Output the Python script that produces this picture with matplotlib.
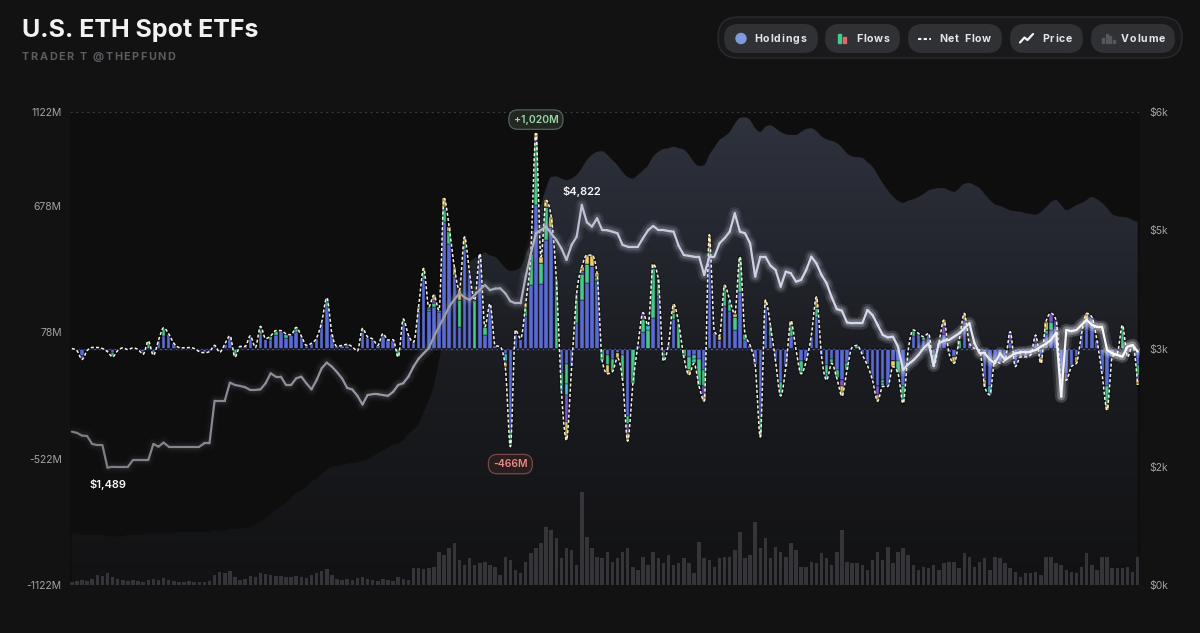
import numpy as np
import matplotlib
matplotlib.use("Agg")
import matplotlib.pyplot as plt
from matplotlib.collections import LineCollection
from matplotlib.patches import FancyBboxPatch, Circle, Rectangle, Polygon
from matplotlib.colors import LinearSegmentedColormap

# ---------------- data (trading-day index 0 = 2025-03-31) ----------------
MONTH_LABELS = ['Apr', 'May', 'Jun', 'Jul', 'Aug', 'Sep', 'Oct', 'Nov', 'Dec', 'Jan 26']
MONTH_TICK_DAYS = [1, 22, 43, 63, 85, 106, 127, 150, 169, 191]

# daily net flow, $M
NET_FLOW = [
    0, -10, -52, -10, 5, 5, 0, -15, -40, -10,
    3, -5, 3, -5, -27, 36, -32, 40, 98, 70,
    25, 5, 3, 5, 0, -15, -20, -15, 15, -18,
    20, 60, -40, 10, 10, 60, 5, 105, 47, 60,
    85, 85, 70, 65, 100, 60, 15, 25, 50, 125,
    240, 70, 10, 15, 20, 8, -12, 95, 55, 45,
    15, 70, 40, 42, -40, 140, 63, 30, 198, 380,
    198, 253, 182, 712, 577, 387, 277, 530, 356, 229,
    450, 103, 213, 15, 8, -87, -466, 87, 47, 213,
    450, 1020, 435, 703, 625, 332, -200, -435, -90, 261,
    387, 443, 443, 356, -60, -120, -110, -45, -150, -440,
    -170, 15, 170, 110, 400, 330, -60, 20, 210, 120,
    -40, -125, -70, -180, -250, 540, 80, 60, 300, 230,
    165, 435, 70, 15, -80, -420, 230, 110, -60, -225,
    -90, 130, -5, -120, -60, 60, 245, -35, -150, -70,
    -140, -225, -100, 5, 15, -30, -80, -150, -250, -180,
    -180, -86, -118, -260, -7, 88, 72, 56, 72, -86,
    25, 135, -23, -70, 40, 167, 25, 0, -7, -181,
    -220, -55, -70, -55, 80, -86, -40, -40, -31, 64,
    -70, 127, 167, 135, -150, -150, -86, -70, 72, 167,
    150, 40, -118, -292, -40, -23, 111, -40, 16, -173,
]

# issuer flows other than the largest fund ($M, by trading day); the rest of net flow is the largest fund
GREEN_FLOW = {8: -20, 15: 36, 18: 38, 32: -40, 37: 20, 39: 20, 40: 20, 42: 20, 44: 20, 50: 25,
              57: 15, 61: 10, 64: -40, 65: 20, 69: 40, 70: 10, 71: 20, 72: 10, 73: 60, 74: 60,
              76: 130, 77: 20, 79: 229, 81: 40, 86: -76, 89: 40, 90: 150, 91: 300, 92: 100, 93: 157,
              95: 332, 96: -65, 97: -95, 99: 110, 100: 120, 101: 90, 103: 20, 104: -60, 105: -50,
              106: -60, 108: -120, 109: -40, 110: -170, 112: 63, 113: 90, 114: 237, 115: 60, 116: -40,
              118: 30, 119: 120, 120: -40, 121: -60, 122: -20, 123: -130, 124: -80, 125: 40, 128: 80,
              129: 30, 130: 60, 131: 165, 132: 30, 135: -60, 137: 50, 139: -50, 141: 50, 143: -60,
              146: 40, 148: -40, 149: -20, 150: -40, 152: -30, 154: 15, 159: -15, 162: -58, 163: -80,
              165: 28, 167: 16, 169: -60, 174: 40, 191: 17, 192: 37, 203: -82, 206: 111, 209: -50}
YELLOW_FLOW = {68: 15, 69: 10, 71: 25, 73: 40, 74: 20, 75: 40, 76: 45, 77: 40, 85: -20, 87: 10,
               89: 20, 91: 25, 92: 30, 93: 30, 94: 50, 97: -85, 100: 20, 101: 40, 102: 50, 103: 15,
               105: -40, 107: -25, 109: -40, 114: 16, 115: 20, 118: 40, 121: -25, 124: -30, 125: 70,
               127: 20, 128: 20, 130: 15, 135: -30, 136: 30, 141: 20, 146: 55, 151: -45, 158: -30,
               161: -26, 171: 30, 173: -30, 175: 30, 179: -31, 190: -30, 191: 40, 197: -30, 199: 37,
               203: -30, 209: -23}
PURPLE_FLOW = {2: -17, 14: -10, 37: 15, 50: 15, 70: 10, 71: 10, 73: 10, 85: -10, 87: 10, 91: 15,
               97: -130, 99: 15, 100: 15, 109: -40, 112: 30, 124: -40, 151: -30, 158: -40, 171: 35,
               175: 27, 184: 50, 189: 40, 192: 40, 193: 55, 194: -40, 195: -30, 209: -20}
CYAN_FLOW = {54: 10, 85: -30, 96: -20, 97: -50, 99: 15, 113: 20, 122: -20, 129: 20, 139: -15,
             148: -30, 159: -15, 180: -40}

# ETH price, $
PRICE = [
    1945, 1930, 1895, 1890, 1789, 1775, 1775, 1489, 1500, 1500,
    1500, 1500, 1585, 1585, 1585, 1585, 1789, 1755, 1806, 1755,
    1755, 1755, 1755, 1755, 1755, 1755, 1797, 1797, 2338, 2338,
    2338, 2567, 2537, 2525, 2508, 2474, 2474, 2482, 2558, 2685,
    2643, 2643, 2537, 2537, 2622, 2643, 2558, 2482, 2600, 2749,
    2821, 2770, 2700, 2620, 2500, 2480, 2400, 2290, 2410, 2420,
    2420, 2410, 2400, 2450, 2537, 2560, 2643, 2770, 2870, 2940,
    3003, 3150, 3277, 3400, 3531, 3620, 3700, 3650, 3615, 3680,
    3743, 3806, 3740, 3760, 3763, 3700, 3600, 3573, 3573, 3912,
    4200, 4461, 4503, 4546, 4461, 4377, 4271, 4123, 4313, 4419,
    4822, 4600, 4546, 4652, 4503, 4500, 4482, 4461, 4313, 4292,
    4292, 4292, 4400, 4500, 4554, 4503, 4503, 4490, 4482, 4300,
    4186, 4175, 4165, 4165, 3933, 4165, 4165, 4334, 4400, 4482,
    4715, 4482, 4461, 4334, 3912, 4165, 4165, 4050, 3996, 3785,
    3975, 3954, 3848, 3869, 3996, 4165, 4080, 3933, 3827, 3650,
    3500, 3480, 3330, 3320, 3320, 3320, 3489, 3425, 3300, 3172,
    3140, 3150, 3023, 2727, 2800, 2850, 2918, 3003, 3066, 2780,
    3066, 3100, 3108, 3150, 3193, 3256, 3320, 3066, 2939, 2939,
    2860, 2812, 2939, 2854, 2900, 2939, 2950, 2950, 2960, 2981,
    3023, 3060, 3108, 3200, 2389, 3235, 3220, 3235, 3300, 3362,
    3300, 3277, 3277, 2981, 2939, 2918, 2896, 3023, 3045, 2960,
]

# total holdings, $B
HOLDINGS_B = [
    3.5, 3.5, 3.4, 3.4, 3.4, 3.4, 3.4, 3.3, 3.3, 3.3,
    3.3, 3.4, 3.4, 3.4, 3.4, 3.5, 3.5, 3.5, 3.5, 3.5,
    3.5, 3.6, 3.6, 3.6, 3.6, 3.6, 3.6, 3.6, 3.7, 3.7,
    3.7, 3.8, 3.8, 3.8, 3.9, 3.9, 4.1, 4.3, 4.5, 4.8,
    5.1, 5.3, 5.6, 5.9, 6.2, 6.4, 6.7, 7.0, 7.2, 7.5,
    7.8, 8.0, 8.05, 8.1, 8.2, 8.25, 8.3, 8.4, 8.5, 8.7,
    8.9, 9.1, 9.3, 9.5, 9.6, 9.8, 10.2, 10.5, 10.9, 11.7,
    12.5, 13.5, 15.2, 16.9, 18.6, 20.0, 20.9, 21.5, 21.85, 22.1,
    22.3, 22.5, 22.3, 22.2, 21.85, 21.45, 21.25, 21.3, 21.5, 22.3,
    23.3, 24.55, 25.7, 26.85, 27.6, 27.65, 27.5, 27.4, 27.5, 27.75,
    28.2, 28.75, 29.1, 29.3, 29.35, 29.1, 28.75, 28.4, 27.95, 27.6,
    27.5, 27.75, 28.05, 28.4, 29.0, 29.3, 29.5, 29.55, 29.65, 29.55,
    29.45, 29.1, 28.6, 28.35, 28.4, 29.1, 29.6, 30.1, 30.35, 30.65,
    31.2, 31.6, 31.65, 31.45, 30.9, 30.65, 31.0, 31.1, 30.9, 30.65,
    30.5, 30.45, 30.45, 30.65, 30.85, 30.9, 30.7, 30.35, 30.15, 30.05,
    29.9, 29.6, 29.2, 29.0, 28.95, 28.9, 28.6, 28.3, 27.75, 27.2,
    26.7, 26.3, 26.0, 25.85, 26.0, 26.1, 26.25, 26.45, 26.7, 26.8,
    26.85, 26.85, 26.7, 26.6, 26.85, 27.15, 27.2, 27.05, 26.85, 26.45,
    26.05, 25.75, 25.65, 25.5, 25.35, 25.3, 25.25, 25.15, 25.1, 25.05,
    25.25, 25.55, 25.9, 26.05, 25.7, 25.35, 25.5, 25.7, 25.85, 26.05,
    26.25, 26.1, 25.85, 25.5, 25.1, 24.95, 24.9, 24.85, 24.7, 24.55,
]

# daily trading volume, $M
VOLUME_M = [
    90, 120, 150, 120, 180, 300, 270, 360, 240, 180,
    150, 120, 150, 120, 90, 150, 180, 150, 210, 150,
    120, 90, 90, 120, 90, 90, 90, 120, 300, 390,
    360, 420, 240, 150, 180, 270, 240, 360, 330, 300,
    270, 270, 240, 240, 270, 240, 210, 300, 360, 420,
    480, 300, 180, 150, 180, 150, 210, 240, 180, 150,
    120, 180, 150, 120, 240, 180, 150, 510, 510, 480,
    510, 540, 990, 900, 1110, 1260, 750, 600, 810, 600,
    660, 690, 600, 540, 300, 840, 750, 450, 360, 690,
    960, 1110, 1260, 1740, 1650, 1410, 810, 1110, 1050, 600,
    2790, 1440, 1110, 840, 810, 990, 690, 810, 990, 1110,
    540, 450, 840, 600, 990, 810, 660, 900, 600, 660,
    810, 660, 360, 1290, 810, 750, 540, 810, 840, 840,
    1050, 1590, 810, 900, 1890, 1110, 1410, 810, 1140, 990,
    840, 1260, 1050, 540, 540, 690, 660, 960, 810, 600,
    990, 1650, 690, 660, 660, 600, 450, 750, 990, 750,
    1140, 660, 990, 1110, 900, 600, 450, 540, 510, 600,
    450, 660, 690, 690, 510, 960, 840, 540, 690, 810,
    450, 840, 810, 660, 510, 390, 240, 360, 360, 390,
    300, 840, 840, 660, 600, 450, 390, 360, 540, 960,
    600, 450, 840, 840, 510, 510, 510, 540, 390, 840,
]

FLOW_TICKS = [-1122, -522, 78, 678, 1122]
PRICE_TICKS = [0, 1500, 3000, 4500, 6000]
PRICE_TICK_LABELS = ['$0k', '$2k', '$3k', '$5k', '$6k']

N = len(NET_FLOW)
assert len(PRICE) == N and len(HOLDINGS_B) == N and len(VOLUME_M) == N, (len(PRICE), len(HOLDINGS_B), len(VOLUME_M))

# ---------------- style ----------------
plt.rcParams['font.family'] = ['Inter', 'DejaVu Sans']
BG = '#121213'
PLOT_BG = '#0e0e0f'
C_BLUE = '#5a6bd6'
C_GREEN = '#45c98c'
C_CYAN = '#3cc6df'
C_PURPLE = '#7a56cf'
C_YELLOW = '#efcf6b'
TICK_C = '#a2a2a6'

W, H = 1200, 633
fig = plt.figure(figsize=(12, 6.33), dpi=100)
fig.patch.set_facecolor(BG)
L, R, T, B = 70, 1140, 112, 585
rect = [L / W, 1 - B / H, (R - L) / W, (B - T) / H]
x = np.arange(N)
XLIM = (-0.35, N - 1 + 0.45)


def monotone_curve(xs, ys, per=12):
    xs = np.asarray(xs, float)
    ys = np.asarray(ys, float)
    h = np.diff(xs)
    s = np.diff(ys) / h
    m = np.zeros_like(ys)
    p = (s[:-1] * h[1:] + s[1:] * h[:-1]) / (h[:-1] + h[1:])
    m[1:-1] = (np.sign(s[:-1]) + np.sign(s[1:])) * np.minimum(
        np.minimum(np.abs(s[:-1]), np.abs(s[1:])), 0.5 * np.abs(p))
    m[0] = (3 * s[0] - m[1]) / 2
    m[-1] = (3 * s[-1] - m[-2]) / 2
    t = np.linspace(0, 1, per, endpoint=False)
    h00 = 2 * t**3 - 3 * t**2 + 1
    h10 = t**3 - 2 * t**2 + t
    h01 = -2 * t**3 + 3 * t**2
    h11 = t**3 - t**2
    outx, outy = [], []
    for i in range(len(xs) - 1):
        outx.append(xs[i] + t * h[i])
        outy.append(h00 * ys[i] + h10 * h[i] * m[i] + h01 * ys[i + 1] + h11 * h[i] * m[i + 1])
    outx.append([xs[-1]])
    outy.append([ys[-1]])
    return np.concatenate(outx), np.concatenate(outy)


def clean(ax):
    for sp in ax.spines.values():
        sp.set_visible(False)
    ax.set_xlim(*XLIM)


# ---- holdings (base axes) ----
ax_h = fig.add_axes(rect)
ax_h.set_facecolor(PLOT_BG)
clean(ax_h)
HMAX = 32
ax_h.set_ylim(0, HMAX)
ax_h.set_xticks([])
ax_h.set_yticks([])
hx, hy = monotone_curve(x, HOLDINGS_B, per=8)
verts = [(hx[0], 0)] + list(zip(hx, hy)) + [(hx[-1], 0)]
poly = Polygon(verts, closed=True, facecolor='none', edgecolor='none')
ax_h.add_patch(poly)
grad = np.linspace(1, 0, 256).reshape(-1, 1)
hcmap = LinearSegmentedColormap.from_list('hold', ['#121214', '#1b1d22', '#2f333e'])
im = ax_h.imshow(grad, extent=[XLIM[0], XLIM[1], 0, HMAX], origin='upper', aspect='auto',
                 cmap=hcmap, zorder=1, interpolation='bicubic')
im.set_clip_path(poly)

# ---- volume ----
ax_v = fig.add_axes(rect, sharex=ax_h)
ax_v.set_facecolor('none')
clean(ax_v)
ax_v.set_ylim(0, 14190)
ax_v.set_xticks([])
ax_v.set_yticks([])
ax_v.bar(x, VOLUME_M, width=0.68, color='#46464b', alpha=0.68, linewidth=0)

# ---- flows ----
ax_f = fig.add_axes(rect, sharex=ax_h)
ax_f.set_facecolor('none')
clean(ax_f)
ax_f.set_ylim(-1122, 1122)


def dense(d):
    arr = np.zeros(N)
    for k, v in d.items():
        arr[k] = v
    return arr


green = dense(GREEN_FLOW)
yellow = dense(YELLOW_FLOW)
purple = dense(PURPLE_FLOW)
cyan = dense(CYAN_FLOW)
net = np.array(NET_FLOW, float)
blue = net - green - yellow - purple - cyan
pos_base = np.zeros(N)
neg_base = np.zeros(N)
for vals, col in [(blue, C_BLUE), (green, C_GREEN), (cyan, C_CYAN), (purple, C_PURPLE), (yellow, C_YELLOW)]:
    pos = np.where(vals > 0, vals, 0)
    neg = np.where(vals < 0, vals, 0)
    ax_f.bar(x, pos, bottom=pos_base, width=0.7, color=col, edgecolor='#0f0f11', linewidth=0.3, zorder=2)
    ax_f.bar(x, neg, bottom=neg_base, width=0.7, color=col, edgecolor='#0f0f11', linewidth=0.3, zorder=2)
    pos_base += pos
    neg_base += neg

ax_f.axhline(0, color='#6676dc', lw=0.9, alpha=0.7, zorder=1.5)
ax_f.axhline(1122, color='#3a3a3e', lw=0.8, ls=(0, (2, 3)), clip_on=False, zorder=1)

cx, cy = monotone_curve(x, NET_FLOW, per=12)
ax_f.plot(cx, cy, color='#000000', lw=2.2, alpha=0.35, zorder=4)
ax_f.plot(cx, cy, color='#f7f3e3', lw=1.1, ls=(0, (2, 1.4)), zorder=5)

ax_f.set_yticks(FLOW_TICKS)
ax_f.set_yticklabels([f'{v}M' for v in FLOW_TICKS])
ax_f.set_xticks(MONTH_TICK_DAYS)
ax_f.set_xticklabels(MONTH_LABELS)
ax_f.tick_params(axis='y', length=0, pad=6, labelsize=7.5, labelcolor=TICK_C)
ax_f.tick_params(axis='x', length=0, pad=15, labelsize=7.5, labelcolor='#9c9ca0')

i_max = int(np.argmax(net))
i_min = int(np.argmin(net))
ax_f.annotate(f'+{net[i_max]:,.0f}M', xy=(i_max, net[i_max]), xytext=(0, 10), textcoords='offset points',
              ha='center', va='center', fontsize=7.5, color='#9ad7a6', fontweight='semibold', zorder=8,
              bbox=dict(boxstyle='round,pad=0.45,rounding_size=0.85', fc='#222722', ec='#56635a', lw=0.9))
ax_f.annotate(f'{net[i_min]:,.0f}M', xy=(i_min, net[i_min]), xytext=(0, -12.5), textcoords='offset points',
              ha='center', va='center', fontsize=7.5, color='#e78b86', fontweight='semibold', zorder=8,
              bbox=dict(boxstyle='round,pad=0.45,rounding_size=0.85', fc='#291d1d', ec='#774848', lw=0.9))

# ---- price ----
ax_p = fig.add_axes(rect, sharex=ax_h)
ax_p.set_facecolor('none')
clean(ax_p)
ax_p.set_ylim(0, 6000)
ax_p.set_xticks([])
ax_p.yaxis.tick_right()
ax_p.set_yticks(PRICE_TICKS)
ax_p.set_yticklabels(PRICE_TICK_LABELS)
ax_p.tick_params(axis='y', length=0, pad=7, labelsize=7.5, labelcolor=TICK_C)
pr = np.array(PRICE, float)
pts = np.column_stack([x, pr])
segs = np.stack([pts[:-1], pts[1:]], axis=1)
tt = np.linspace(0, 1, N - 1)
pcmap = LinearSegmentedColormap.from_list('pr', [(0, '#7c7c83'), (0.35, '#9c9eab'), (0.5, '#c4c7da'),
                                                 (0.75, '#d6d9ec'), (1.0, '#ffffff')])
cols = pcmap(tt)
for lw, a in [(9, 0.05), (5.5, 0.09)]:
    gc = cols.copy()
    gc[:, 3] = a * (0.4 + 1.6 * tt**1.5)
    ax_p.add_collection(LineCollection(segs, colors=gc, linewidths=lw, capstyle='round', joinstyle='round', zorder=3))
ax_p.add_collection(LineCollection(segs, colors=cols, linewidths=1.6, capstyle='round', joinstyle='round', zorder=4))
p_max = int(np.argmax(pr))
p_min = int(np.argmin(pr))
ax_p.annotate(f'${pr[p_max]:,.0f}', xy=(p_max, pr[p_max]), xytext=(0, 9.5), textcoords='offset points',
              ha='center', va='center', fontsize=8, color='#f4f4f4', fontweight='semibold', zorder=8)
ax_p.annotate(f'${pr[p_min]:,.0f}', xy=(p_min, pr[p_min]), xytext=(0, -12.5), textcoords='offset points',
              ha='center', va='center', fontsize=8, color='#f4f4f4', fontweight='semibold', zorder=8)

# ---- overlay (title, legend) in pixel coordinates ----
ax_o = fig.add_axes([0, 0, 1, 1])
ax_o.set_xlim(0, W)
ax_o.set_ylim(H, 0)
ax_o.axis('off')
ax_o.patch.set_alpha(0)
renderer = fig.canvas.get_renderer()


def spaced_text(x0, y0, s, spacing, **kw):
    cur = x0
    fs = kw.get('fontsize', 8)
    for ch in s:
        if ch == ' ':
            cur += fs * 1.389 * 0.28 + spacing
            continue
        t = ax_o.text(cur, y0, ch, ha='left', **kw)
        bb = t.get_window_extent(renderer=renderer)
        cur += bb.width + spacing
    return cur


ax_o.text(22, 37.5, 'U.S. ETH Spot ETFs', fontsize=18, fontweight='bold', color='#f2f2f3',
          ha='left', va='baseline')
spaced_text(22, 60, 'TRADER T @THEPFUND', 1.5, fontsize=7.8, fontweight='bold', color='#5d5d61', va='baseline')


def pill(x0, x1, y0, y1, fc, ec='none', lw=0):
    r = (y1 - y0) / 2
    ax_o.add_patch(FancyBboxPatch((x0, y0), x1 - x0, y1 - y0,
                                  boxstyle=f'round,pad=0,rounding_size={r}', fc=fc, ec=ec, lw=lw))


pill(718, 1182, 17, 58, '#19191b', '#2b2b2e', 1.0)
PILLS = [(724, 818, 754, 'Holdings'), (825, 900, 856, 'Flows'), (908, 1002, 939, 'Net Flow'),
         (1010, 1083, 1042, 'Price'), (1091, 1175, 1121, 'Volume')]
for x0, x1, tx, label in PILLS:
    pill(x0, x1, 24, 53, '#303134')
    spaced_text(tx, 38.5, label, 0.9, fontsize=7.6, fontweight='bold', color='#e6e6e8', va='center')

ax_o.add_patch(Circle((741, 38.5), 5, color='#7e9be0'))
ax_o.add_patch(Rectangle((837.5, 34), 3, 9, color='#3fc98c'))
ax_o.add_patch(Rectangle((842.5, 36.5), 3.5, 6.5, color='#e0676b'))
ax_o.plot([918, 930.5], [38.5, 38.5], color='#f2f2f2', lw=1.5, ls=(0, (1.6, 1.1)))
ax_o.plot([1020, 1024.5, 1027.5, 1033], [42.5, 37.5, 40, 34], color='#f2f2f2', lw=1.6,
          solid_joinstyle='round', solid_capstyle='round')
for bx, bh in [(1102, 5), (1105.5, 9), (1109, 7), (1112.5, 3.5)]:
    ax_o.add_patch(Rectangle((bx, 43 - bh), 2, bh, color='#56565b'))

fig.savefig('out.png', dpi=100, facecolor=BG)
